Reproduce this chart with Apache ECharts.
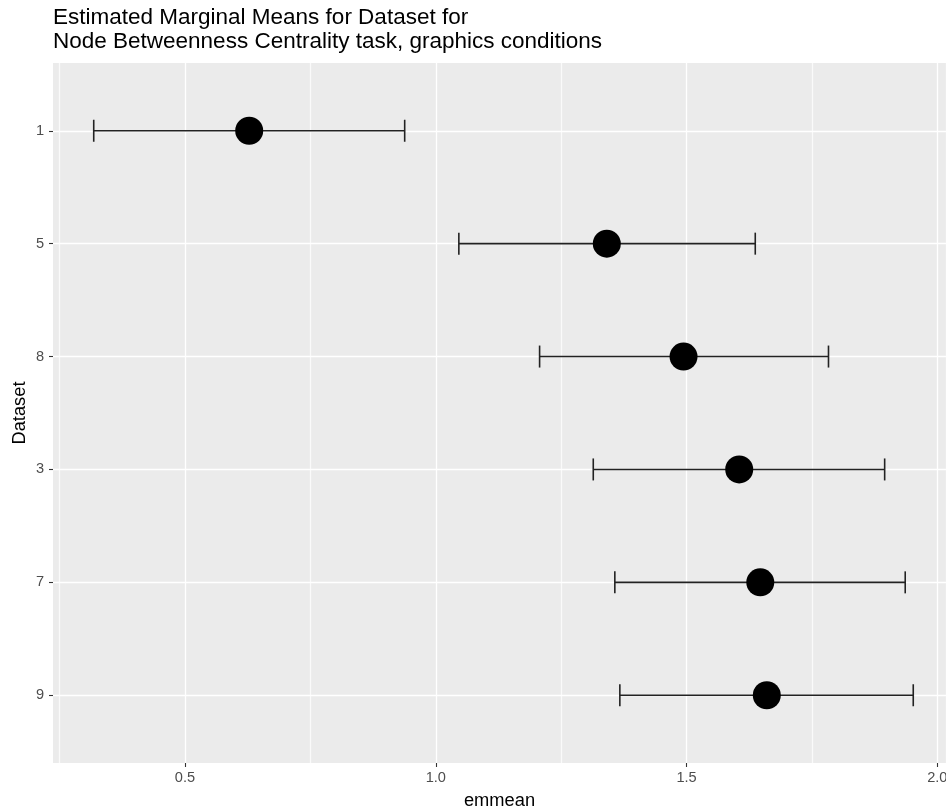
<!DOCTYPE html>
<html>
<head>
<meta charset="utf-8">
<script src="https://cdn.jsdelivr.net/npm/echarts@6/dist/echarts.min.js"></script>
<style>
html,body{margin:0;padding:0;background:#fff;}
#chart{width:946px;height:811px;}
</style>
</head>
<body>
<div id="chart"></div>
<script>
// Data
const datasets = ['1', '5', '8', '3', '7', '9'];
const emmeans  = [0.628, 1.341, 1.494, 1.605, 1.647, 1.660];
const lowerCL  = [0.318, 1.046, 1.207, 1.314, 1.357, 1.367];
const upperCL  = [0.938, 1.637, 1.783, 1.895, 1.936, 1.952];
const xTicks   = [0.5, 1.0, 1.5, 2.0];

const X_MIN = 0.2368, X_MAX = 2.0173;
const FONT = 'Liberation Sans, Arial, Helvetica, sans-serif';

const errData = datasets.map((d, i) => [lowerCL[i], i, upperCL[i]]);
const ptData = datasets.map((d, i) => [emmeans[i], i]);

const gridBase = {right: 0, containLabel: false, outerBoundsMode: 'none'};

const chart = echarts.init(document.getElementById('chart'));
chart.setOption({
  animation: false,
  backgroundColor: '#ffffff',
  title: {
    text: 'Estimated Marginal Means for Dataset for\nNode Betweenness Centrality task, graphics conditions',
    left: 53, top: 6, padding: 0,
    textStyle: {fontFamily: FONT, fontSize: 22.5, fontWeight: 'normal', color: '#000', lineHeight: 24}
  },
  grid: [
    Object.assign({left: 53, top: 63, bottom: 48, show: true, backgroundColor: '#EBEBEB', borderWidth: 0}, gridBase),
    Object.assign({left: 59.6, top: 63, bottom: 48}, gridBase),
    Object.assign({left: 53, top: 130.75, bottom: 115.75}, gridBase),
    Object.assign({left: 53, top: 63, bottom: 48}, gridBase)
  ],
  xAxis: [
    {gridIndex: 0, type: 'value', min: X_MIN, max: X_MAX, show: false},
    {gridIndex: 1, type: 'value', min: 0.25, max: X_MAX, interval: 0.25,
     axisLine: {show: false}, axisTick: {show: false}, axisLabel: {show: false},
     splitLine: {show: true, lineStyle: {width: 1.3, color: ['rgba(255,255,255,0.75)', '#ffffff']}}},
    {gridIndex: 2, type: 'value', min: X_MIN, max: X_MAX, show: false},
    {gridIndex: 3, type: 'value', min: X_MIN, max: X_MAX, position: 'bottom',
     axisLine: {show: false},
     axisTick: {show: true, customValues: xTicks, length: 4, lineStyle: {color: '#333', width: 1.1}},
     axisLabel: {show: true, customValues: xTicks, margin: 7, color: '#4D4D4D', fontSize: 14.6, fontFamily: FONT,
       formatter: v => v.toFixed(1)},
     splitLine: {show: false},
     name: 'emmean', nameLocation: 'middle', nameGap: 29, nameMoveOverlap: false,
     nameTextStyle: {fontFamily: FONT, fontSize: 18.3, color: '#000'}}
  ],
  yAxis: [
    {gridIndex: 0, type: 'value', show: false},
    {gridIndex: 1, type: 'value', show: false},
    {gridIndex: 2, type: 'value', min: 0, max: datasets.length - 1, interval: 1, inverse: true,
     axisLine: {show: false},
     axisTick: {show: true, length: 4, lineStyle: {color: '#333', width: 1.1}},
     axisLabel: {margin: 9, color: '#4D4D4D', fontSize: 14.6, fontFamily: FONT,
       formatter: v => datasets[Math.round(v)]},
     splitLine: {show: true, lineStyle: {color: '#ffffff', width: 1.3}},
     name: 'Dataset', nameLocation: 'middle', nameGap: 24, nameRotate: 90, nameMoveOverlap: false,
     nameTextStyle: {fontFamily: FONT, fontSize: 18.3, color: '#000'}},
    {gridIndex: 3, type: 'value', show: false}
  ],
  series: [
    {
      type: 'custom', xAxisIndex: 2, yAxisIndex: 2, data: errData, clip: false,
      encode: {x: [0, 2], y: 1},
      renderItem: function (params, api) {
        const lo = api.coord([api.value(0), api.value(1)]);
        const hi = api.coord([api.value(2), api.value(1)]);
        const h = 11;
        const style = {stroke: '#222', lineWidth: 1.6};
        return {
          type: 'group',
          children: [
            {type: 'line', shape: {x1: lo[0], y1: lo[1], x2: hi[0], y2: hi[1]}, style: style},
            {type: 'line', shape: {x1: lo[0], y1: lo[1] - h, x2: lo[0], y2: lo[1] + h}, style: style},
            {type: 'line', shape: {x1: hi[0], y1: hi[1] - h, x2: hi[0], y2: hi[1] + h}, style: style}
          ]
        };
      },
      z: 2
    },
    {
      type: 'scatter', xAxisIndex: 2, yAxisIndex: 2, data: ptData, clip: false,
      symbol: 'circle', symbolSize: 28,
      itemStyle: {color: '#000', opacity: 1}, z: 3
    }
  ]
});
</script>
</body>
</html>
